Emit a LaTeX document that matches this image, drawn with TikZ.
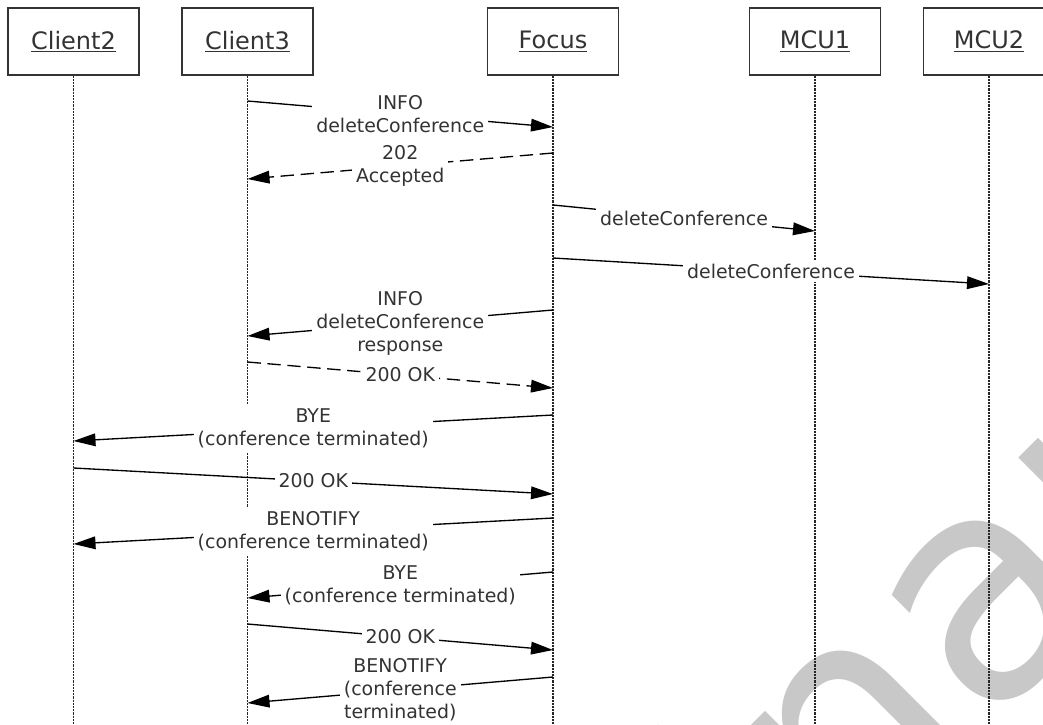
\documentclass[tikz,border=0pt]{standalone}
\usepackage{fontspec}
\setmainfont{DejaVu Sans}
\usetikzlibrary{arrows.meta}
\definecolor{wmgray}{RGB}{200,200,200}

\begin{document}
\begin{tikzpicture}[
    x=0.75pt, y=-0.75pt,
    % === STYLES ===
    actor/.style={draw=black!80, line width=0.9pt, fill=white, inner sep=0pt,
        minimum width=98.25pt, minimum height=50.25pt,
        text=black!80, font=\fontsize{18}{21}\selectfont},
    lifeline/.style={black!85, line width=1.3pt, dash pattern=on 1.6pt off 0.8pt},
    msg/.style={line width=1pt, -{Triangle[length=16.5pt,width=9.5pt]}},
    reply/.style={msg, dash pattern=on 10pt off 5pt},
    lbl/.style={fill=white, inner sep=3pt, align=center, text=black!80,
        font=\fontsize{14.2}{17.25}\selectfont},
    watermark/.style={text=wmgray, rotate=45, anchor=base, inner sep=0pt,
        font=\fontsize{232}{240}\selectfont},
]
    % === FRAME ===
    \path[use as bounding box, fill=white] (0,0) rectangle (1043,725);
    \coordinate (bottom) at (0,725);

    % === WATERMARK ===
    \node[watermark] (wm) at (720,996) {Preliminary};

    % === PARTICIPANTS ===
    \node[actor] (client2) at (73.5,41.5) {\underline{Client2}};
    \node[actor] (client3) at (247.5,41.5) {\underline{Client3}};
    \node[actor] (focus) at (553,41.5) {\underline{Focus}};
    \node[actor] (mcu1) at (815,41.5) {\underline{MCU1}};
    \node[actor] (mcu2) at (989,41.5) {\underline{MCU2}};

    % === LIFELINES ===
    \foreach \n in {client2,client3,focus,mcu1,mcu2}
        \draw[lifeline] (\n.south) -- (\n.south |- bottom);

    % === MESSAGE ENDS (start y, end y = start + 26) ===
    \foreach \i/\src/\dst/\y in {1/client3/focus/101, 2/focus/client3/153,
        3/focus/mcu1/205, 4/focus/mcu2/258, 5/focus/client3/310,
        6/client3/focus/362, 7/focus/client2/415, 8/client2/focus/468,
        9/focus/client2/518, 10/focus/client3/572, 11/client3/focus/624,
        12/focus/client3/677} {
        \coordinate (m\i s) at (\src.south |- 0,\y);
        \coordinate (m\i e) at (\dst.south |- 0,\y+26);
    }

    % === MESSAGES ===
    \draw[msg] (m1s) -- node[lbl] {INFO\\deleteConference} (m1e);
    \draw[reply] (m2s) -- node[lbl] {202\\Accepted} (m2e);
    \draw[msg] (m3s) -- node[lbl] {deleteConference} (m3e);
    \draw[msg] (m4s) -- node[lbl] {deleteConference} (m4e);
    \draw[msg] (m5s) -- node[lbl] {INFO\\deleteConference\\response} (m5e);
    \draw[reply] (m6s) -- node[lbl] {200 OK} (m6e);
    \draw[msg] (m7s) -- node[lbl] {BYE\\(conference terminated)} (m7e);
    \draw[msg] (m8s) -- node[lbl] {200 OK} (m8e);
    \draw[msg] (m9s) -- node[lbl] {BENOTIFY\\(conference terminated)} (m9e);
    \draw[msg] (m10s) -- node[lbl] {BYE\\(conference terminated)} (m10e);
    \draw[msg] (m11s) -- node[lbl] {200 OK} (m11e);
    \draw[msg] (m12s) -- node[lbl] {BENOTIFY\\(conference\\terminated)} (m12e);

\end{tikzpicture}
\end{document}
